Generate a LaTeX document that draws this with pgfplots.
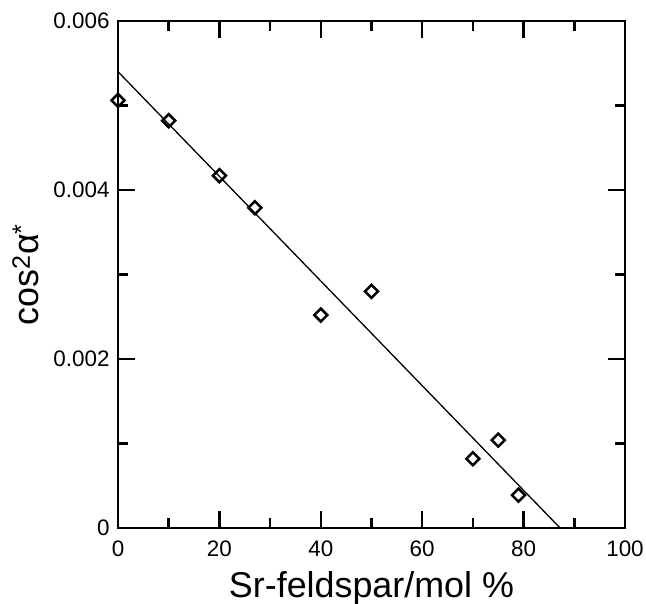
\documentclass[border=0pt]{standalone}
\usepackage{fontspec}
\setmainfont{Liberation Sans}
\usepackage{pgfplots}
\pgfplotsset{compat=1.18}
\begin{document}
\begin{tikzpicture}
\begin{axis}[
  scale only axis,
  width=507bp, height=507bp,
  xmin=0, xmax=100, ymin=0, ymax=0.006,
  xtick={0,20,40,60,80,100},
  ytick={0,0.002,0.004,0.006},
  yticklabels={0,0.002,0.004,0.006},
  scaled y ticks=false, scaled x ticks=false,
  minor x tick num=1, minor y tick num=1,
  tick align=inside,
  major tick length=17bp, minor tick length=10bp,
  axis line style={line width=2.6bp},
  every tick/.style={black, line width=2.4bp},
  /pgf/number format/assume math mode=true,
  tick label style={font=\fontsize{22.5}{24}\selectfont},
  xticklabel style={yshift=-9bp},
  yticklabel style={xshift=-5bp},
  xlabel={Sr-feldspar/mol \%},
  ylabel={cos\textsuperscript{2}α\textsuperscript{*}},
  label style={font=\fontsize{36}{40}\selectfont},
  xlabel style={at={(axis description cs:0.5,-0.138)}, anchor=base},
  ylabel style={at={(axis description cs:-0.156,0.5)}, anchor=base, rotate=0},
  clip=false,
]
\addplot[black, line width=1.3bp] coordinates {(0,0.0054) (87.2,0)};
\addplot[only marks, mark=square, mark size=4.6bp,
  mark options={rotate=45, line width=2.5bp, black, fill=white}] coordinates {
  (0,0.00506) (10,0.00482) (20,0.00417) (27,0.00379) (40,0.00252)
  (50,0.00280) (70,0.00082) (75,0.00104) (79,0.00039)
};
\end{axis}
\pgfresetboundingbox
\path[use as bounding box] (-118bp,-76bp) rectangle (528bp,528bp);
\end{tikzpicture}
\end{document}
